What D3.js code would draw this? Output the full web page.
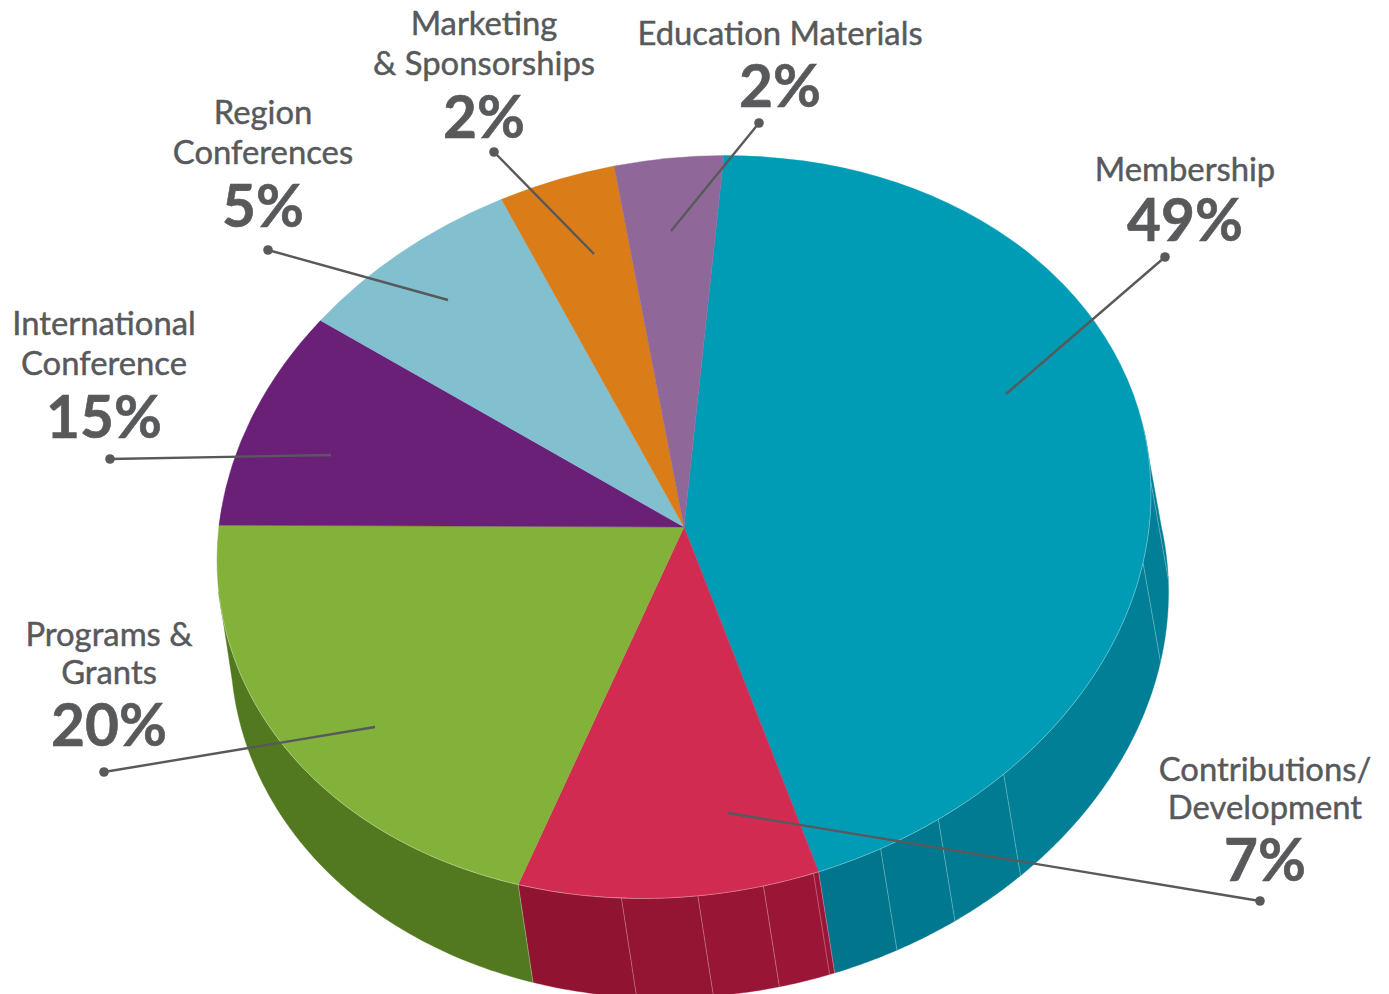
<!DOCTYPE html>
<html><head><meta charset="utf-8">
<style>html,body{margin:0;padding:0;background:#fff;overflow:hidden}svg{display:block}
text{font-family:Lato,sans-serif;fill:#58595b;text-anchor:middle}
.name{font-size:32.8px;font-weight:400;stroke:#58595b;stroke-width:.45px}.pct{font-size:58.5px;font-weight:700;stroke:#58595b;stroke-width:.6px}</style>
<script src="https://cdn.jsdelivr.net/npm/d3@7"></script></head><body>
<svg id="c" width="1389" height="994" viewBox="0 0 1389 994"></svg>
<script>
// printed labels and printed percentages
const categories=["Membership","Contributions/\nDevelopment","Programs &\nGrants","International\nConference","Region\nConferences","Marketing\n& Sponsorships","Education Materials"];
const labelPercents=[49,7,20,15,5,2,2];
// slice sizes as actually drawn in the picture (they differ from the printed labels)
const drawnShares=[43.99,10.43,20.72,9.31,7.81,4.0,3.75];
// facet breaks on the extruded wall, degrees clockwise from 12 o'clock
const wallBreaksMembership=[80,88,100.6,136.8,147,155.1,163.25];
const wallBreaksContrib=[163.25,170.2,178.3,187.7,200.8];
const wallBreaksPrograms=[200.8,265];

const topColors=["#009bb5","#d22b52","#82b23a","#6b2078","#82bfcf","#da7c18","#8f6899"];
const wallMembership=["#007f96","#007f96","#007f96","#007b92","#007890","#00758c"];
const wallContrib=["#9b1537","#981535","#931433","#901431"];
const wallPrograms=["#527820"];

// geometry of the tilted top disc and of the bottom rim
const topE={cx:684,cy:527,rx:467,ry:370,k:33};
const botE={cx:699.5,cy:620,rx:469,ry:377,k:28};
const rim=(e,deg)=>{const a=deg*Math.PI/180;return[e.cx+e.rx*Math.sin(a),e.cy-e.ry*Math.cos(a)-e.k*Math.sin(a)];};

const annotations=[
 {lines:[181],pct:241,x:1185,lead:[[1165,257],[1006,394]]},
 {lines:[781,819],pct:881,x:1265,lead:[[1260,901],[728,813]]},
 {lines:[646,684],pct:746,x:109,lead:[[104,772],[375,727]]},
 {lines:[335,375],pct:438,x:104,lead:[[110,459],[331,455]]},
 {lines:[124,164],pct:227,x:263,lead:[[268,250],[448,300]]},
 {lines:[35,75],pct:138,x:484,lead:[[494,152],[594,254]]},
 {lines:[45],pct:107,x:780,lead:[[759,123],[671,231]]}
];

const svg=d3.select("#c");
const line=d3.line();

// walls
const wallG=svg.append("g");
function facets(breaks,colors){
  d3.pairs(breaks).forEach(([a,b],i)=>{
    const deg=d3.range(a,b,0.5).concat([b]);
    const pts=deg.map(d=>rim(topE,d)).concat(deg.slice().reverse().map(d=>rim(botE,d)));
    wallG.append("path").attr("d",line(pts)+"Z").attr("fill",colors[i]).attr("stroke",colors[i]).attr("stroke-width",.4);
  });
}
facets(wallBreaksMembership,wallMembership);
facets(wallBreaksContrib,wallContrib);
facets(wallBreaksPrograms,wallPrograms);
// faint seams
const seams=[88,100.6,136.8,147,155.1,163.25,163.9,170.2,178.3,187.7,200.8];
seams.forEach(d=>wallG.append("path").attr("d",line([rim(topE,d),rim(botE,d)]))
  .attr("fill","none").attr("stroke","#fff").attr("stroke-opacity",.33).attr("stroke-width",.9));

// top disc
const R=100;
const startA=4.9*Math.PI/180;
const pie=d3.pie().sort(null).startAngle(startA).endAngle(startA+2*Math.PI)(drawnShares);
const arc=d3.arc().innerRadius(0).outerRadius(R);
svg.append("g").attr("transform",`matrix(${topE.rx/R},${-topE.k/R},0,${topE.ry/R},${topE.cx},${topE.cy})`)
  .selectAll("path").data(pie).join("path").attr("d",arc)
  .attr("fill",(d,i)=>topColors[i]).attr("stroke",(d,i)=>topColors[i]).attr("stroke-width",.1);
// light rim line along the front
svg.append("path").attr("d",line(d3.range(80,265,1).map(d=>rim(topE,d))))
  .attr("fill","none").attr("stroke","#fff").attr("stroke-opacity",.38).attr("stroke-width",.8);

// leaders and labels
annotations.forEach((a,i)=>{
  svg.append("path").attr("d",line(a.lead)).attr("fill","none").attr("stroke","#58595b").attr("stroke-width",2.4);
  svg.append("circle").attr("cx",a.lead[0][0]).attr("cy",a.lead[0][1]).attr("r",4.8).attr("fill","#58595b");
  categories[i].split("\n").forEach((t,j)=>svg.append("text").attr("class","name").attr("x",a.x).attr("y",a.lines[j]).text(t));
  svg.append("text").attr("class","pct").attr("x",a.x).attr("y",a.pct).text(labelPercents[i]+"%");
});
</script></body></html>
